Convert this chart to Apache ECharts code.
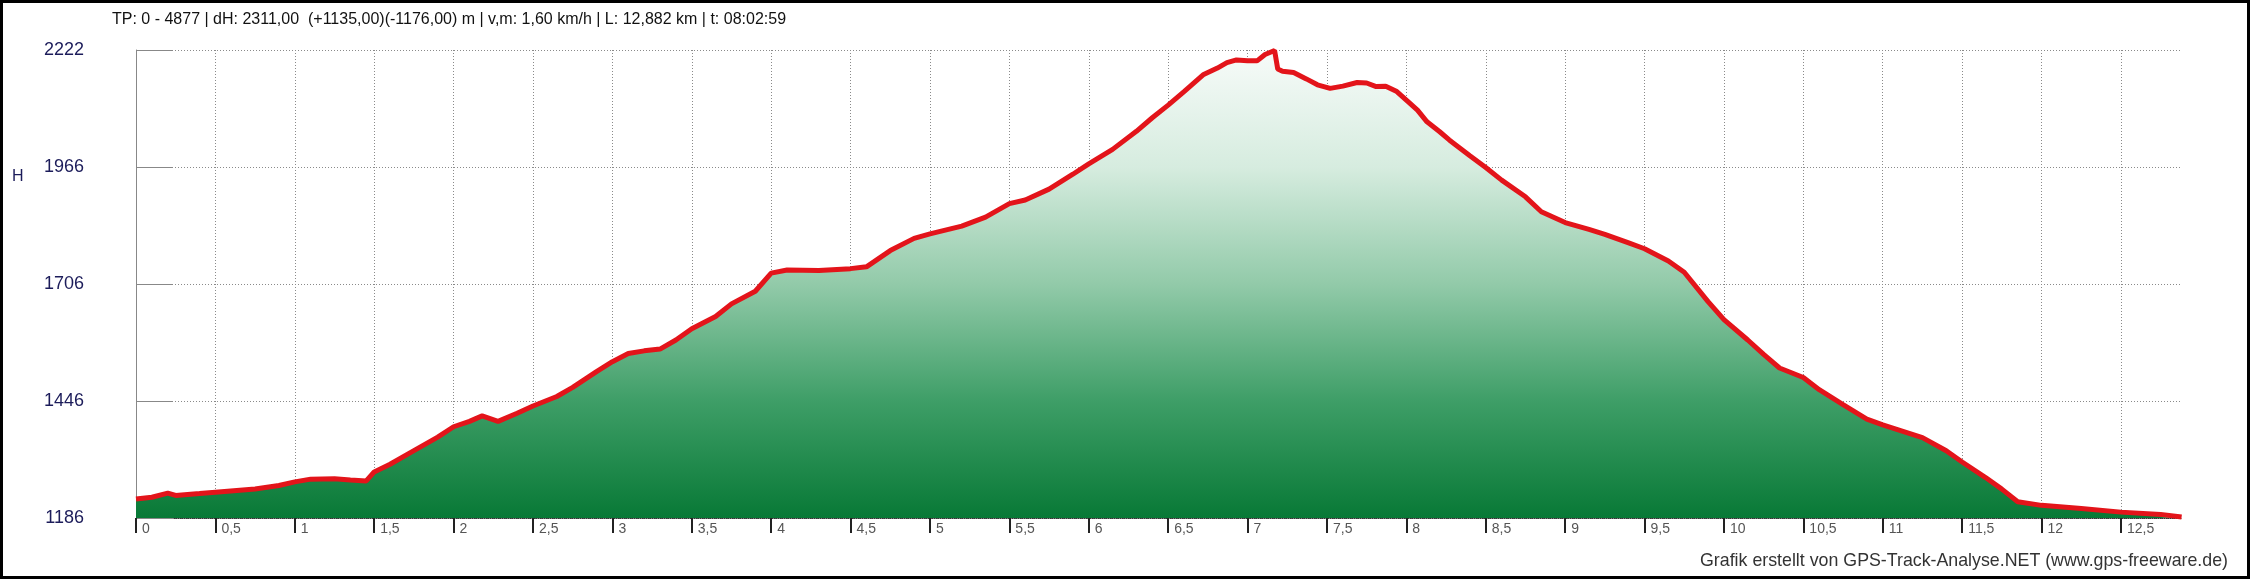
<!DOCTYPE html>
<html>
<head>
<meta charset="utf-8">
<script src="https://cdn.jsdelivr.net/npm/echarts@6/dist/echarts.min.js"></script>
<style>
html,body{margin:0;padding:0;background:#fff;}
#c{width:2250px;height:579px;}
</style>
</head>
<body>
<div id="c"></div>
<script>
// distance along track (km)
const dist = [0.00,0.10,0.20,0.25,0.40,0.50,0.75,0.90,1.00,1.10,1.25,1.35,1.45,1.50,1.60,1.75,1.90,2.00,2.10,2.18,2.28,2.40,2.50,2.65,2.75,2.90,3.00,3.10,3.20,3.30,3.40,3.50,3.65,3.75,3.90,4.00,4.10,4.30,4.50,4.60,4.75,4.90,5.00,5.20,5.35,5.50,5.60,5.75,5.90,6.00,6.15,6.30,6.40,6.50,6.60,6.72,6.81,6.87,6.93,7.00,7.06,7.11,7.17,7.19,7.22,7.29,7.37,7.44,7.52,7.60,7.69,7.75,7.81,7.87,7.94,8.00,8.07,8.13,8.21,8.27,8.40,8.50,8.60,8.75,8.85,9.00,9.15,9.25,9.40,9.50,9.65,9.75,9.90,10.00,10.15,10.25,10.35,10.50,10.60,10.75,10.90,11.00,11.25,11.40,11.50,11.65,11.75,11.85,12.00,12.25,12.50,12.75,12.882];
// elevation (m)
const elev = [1228,1232,1241,1236,1240,1243,1250,1258,1266,1272,1273,1270,1268,1288,1305,1335,1365,1388,1400,1412,1400,1418,1434,1455,1475,1510,1532,1550,1556,1560,1580,1605,1632,1660,1688,1728,1735,1734,1738,1742,1778,1805,1815,1832,1852,1882,1890,1914,1947,1970,2002,2042,2072,2100,2130,2167,2182,2194,2200,2198,2198,2212,2221,2180,2175,2172,2158,2145,2137,2142,2150,2149,2141,2142,2130,2111,2089,2063,2041,2023,1988,1962,1934,1897,1864,1840,1825,1814,1795,1782,1755,1730,1665,1625,1580,1548,1518,1497,1470,1437,1405,1392,1364,1335,1310,1275,1250,1222,1214,1207,1199,1194,1188];
const xTicks = [0,0.5,1,1.5,2,2.5,3,3.5,4,4.5,5,5.5,6,6.5,7,7.5,8,8.5,9,9.5,10,10.5,11,11.5,12,12.5];
const yTicks = [1186,1445,1704,1963,2222];
const yTickLabels = ['1186','1446','1706','1966','2222'];
const titleText = 'TP: 0 - 4877 | dH: 2311,00  (+1135,00)(-1176,00) m | v,m: 1,60 km/h | L: 12,882 km | t: 08:02:59';
const creditText = 'Grafik erstellt von GPS-Track-Analyse.NET (www.gps-freeware.de)';

const chart = echarts.init(document.getElementById('c'), null, {renderer:'canvas'});
const FONT = '"Liberation Sans", Arial, sans-serif';
chart.setOption({
  animation:false,
  backgroundColor:'#fff',
  grid:{left:136, right:68.4, top:50, bottom:61, outerBoundsMode:'none', containLabel:false},
  xAxis:{
    type:'value', min:0, max:12.882,
    axisLine:{show:true, lineStyle:{color:'#333', width:1, type:[1,1]}},
    axisTick:{show:true, length:15, customValues:xTicks, lineStyle:{color:'#222', width:2}},
    axisLabel:{customValues:xTicks, formatter:v=>String(v).replace('.',','), align:'left', padding:[0,0,0,6], margin:4, fontFamily:FONT, fontSize:14, color:'#555'},
    splitLine:{show:true, lineStyle:{color:'#8a8a8a', width:1, type:[1,2]}}
  },
  yAxis:{
    type:'value', min:1186, max:2222, offset:37,
    axisLine:{show:true, lineStyle:{color:'#888', width:1}},
    axisTick:{show:true, inside:true, length:37, customValues:yTicks, lineStyle:{color:'#888', width:1}},
    axisLabel:{customValues:yTicks, formatter:v=>yTickLabels[yTicks.indexOf(v)], margin:15, fontFamily:FONT, fontSize:18, color:'#1c1c5a'},
    splitLine:{show:true, lineStyle:{color:'#8a8a8a', width:1, type:[1,2]}}
  },
  series:[{
    type:'line',
    data:dist.map((d,i)=>[d, elev[i]]),
    showSymbol:false, smooth:false,
    lineStyle:{color:'#e3141a', width:5},
    areaStyle:{
      origin:'start', opacity:1,
      color:new echarts.graphic.LinearGradient(0,0,0,1,[
        {offset:0, color:'#f7fbf9'},
        {offset:0.25, color:'#d6ecdf'},
        {offset:0.5, color:'#92caa9'},
        {offset:0.75, color:'#3e9e67'},
        {offset:1, color:'#087936'}
      ])
    }
  }],
  graphic:[
    {type:'text', left:112, top:12, style:{text:titleText, font:'16px '+FONT, fill:'#111'}},
    {type:'text', left:12, top:169, style:{text:'H', font:'16px '+FONT, fill:'#1c1c5a'}},
    {type:'text', right:22, top:552, style:{text:creditText, font:'17.8px '+FONT, fill:'#333'}},
    {type:'rect', z:100, shape:{x:1.5, y:1.5, width:2247, height:576}, style:{fill:'none', stroke:'#000', lineWidth:3}}
  ]
});
</script>
</body>
</html>
